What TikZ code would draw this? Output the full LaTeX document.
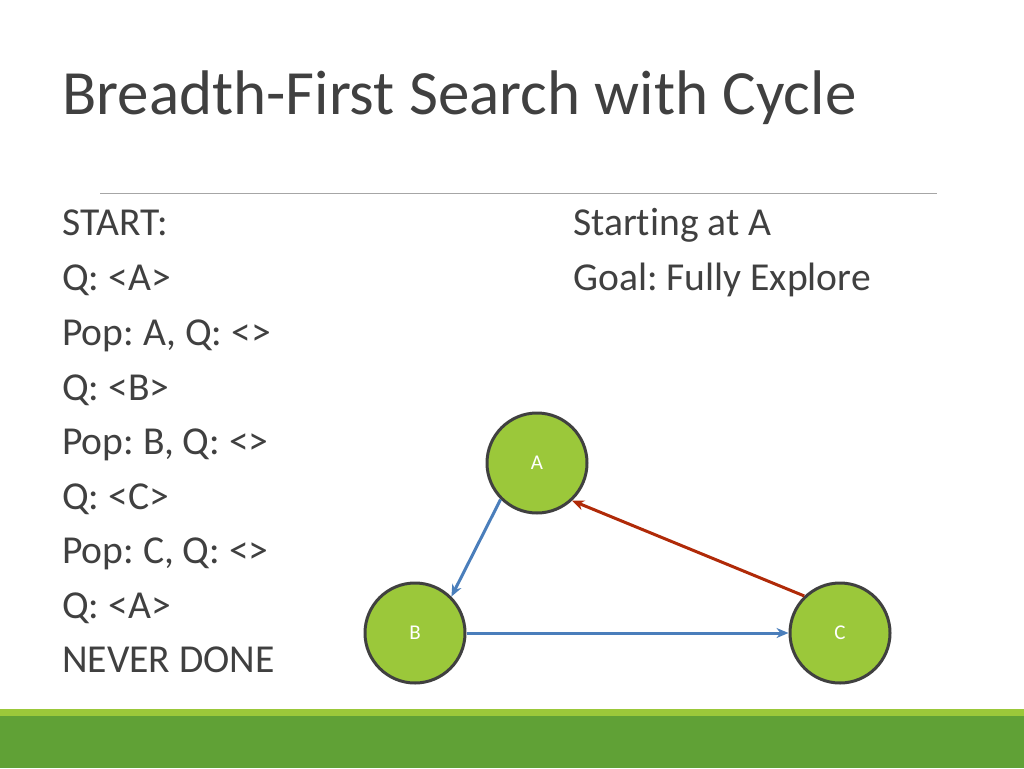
\documentclass[tikz,border=0pt]{standalone}
\usepackage{fontspec}
\setmainfont[Ligatures=NoCommon]{Carlito}
\frenchspacing
\usetikzlibrary{arrows.meta}
\definecolor{slidegray}{HTML}{404040}
\definecolor{rulegray}{HTML}{A6A6A6}
\definecolor{nodegreen}{HTML}{9BC83A}
\definecolor{bargreen}{HTML}{60A136}
\definecolor{edgeblue}{HTML}{4A7EBB}
\definecolor{edgered}{HTML}{B02A08}

\begin{document}
\begin{tikzpicture}[x=1pt,y=-1pt,
    >={Stealth[length=12pt,width=10pt]},
    vertex/.style={circle,draw=slidegray,line width=3pt,fill=nodegreen,
      minimum size=100pt,inner sep=0pt,text=white,font=\fontsize{21}{24}\selectfont},
    txt/.style={anchor=base west,inner sep=0pt,text=slidegray,
      font=\fontsize{39.6}{48}\selectfont}]
    \useasboundingbox (0,0) rectangle (1024,768);
    % title and rule
    \node[anchor=base west,inner sep=0pt,text=slidegray,font=\fontsize{63}{70}\selectfont]
      (title) at (62,114) {Breadth-First Search with Cycle};
    \draw[rulegray,line width=1pt] (100,193) -- (937,193);
    % queue trace
    \node[txt] (t0) at (62,235) {START:};
    \node[txt] (t1) at (62,290) {Q: <A>};
    \node[txt] (t2) at (62,345) {Pop: A, Q: <>};
    \node[txt] (t3) at (62,400) {Q: <B>};
    \node[txt] (t4) at (62,454) {Pop: B, Q: <>};
    \node[txt] (t5) at (62,509) {Q: <C>};
    \node[txt] (t6) at (62,563) {Pop: C, Q: <>};
    \node[txt] (t7) at (62,618) {Q: <A>};
    \node[txt] (t8) at (62,672) {NEVER DONE};
    \node[txt] (s0) at (573,235) {Starting at A};
    \node[txt] (s1) at (573,290) {Goal: Fully Explore};
    % graph
    \node[vertex] (nA) at (537,463) {A};
    \node[vertex] (nB) at (415,633) {B};
    \node[vertex] (nC) at (840,633) {C};
    \draw[->,edgeblue,line width=3pt] (nA.225) -- (nB.45);
    \draw[->,edgeblue,line width=3pt] (nB.east) -- (nC.west);
    \draw[->,edgered,line width=3pt] (nC.134) -- (nA.-47);
    % footer bars
    \fill[nodegreen] (0,709) rectangle (1024,716);
    \fill[bargreen] (0,716) rectangle (1024,768);
\end{tikzpicture}
\end{document}
